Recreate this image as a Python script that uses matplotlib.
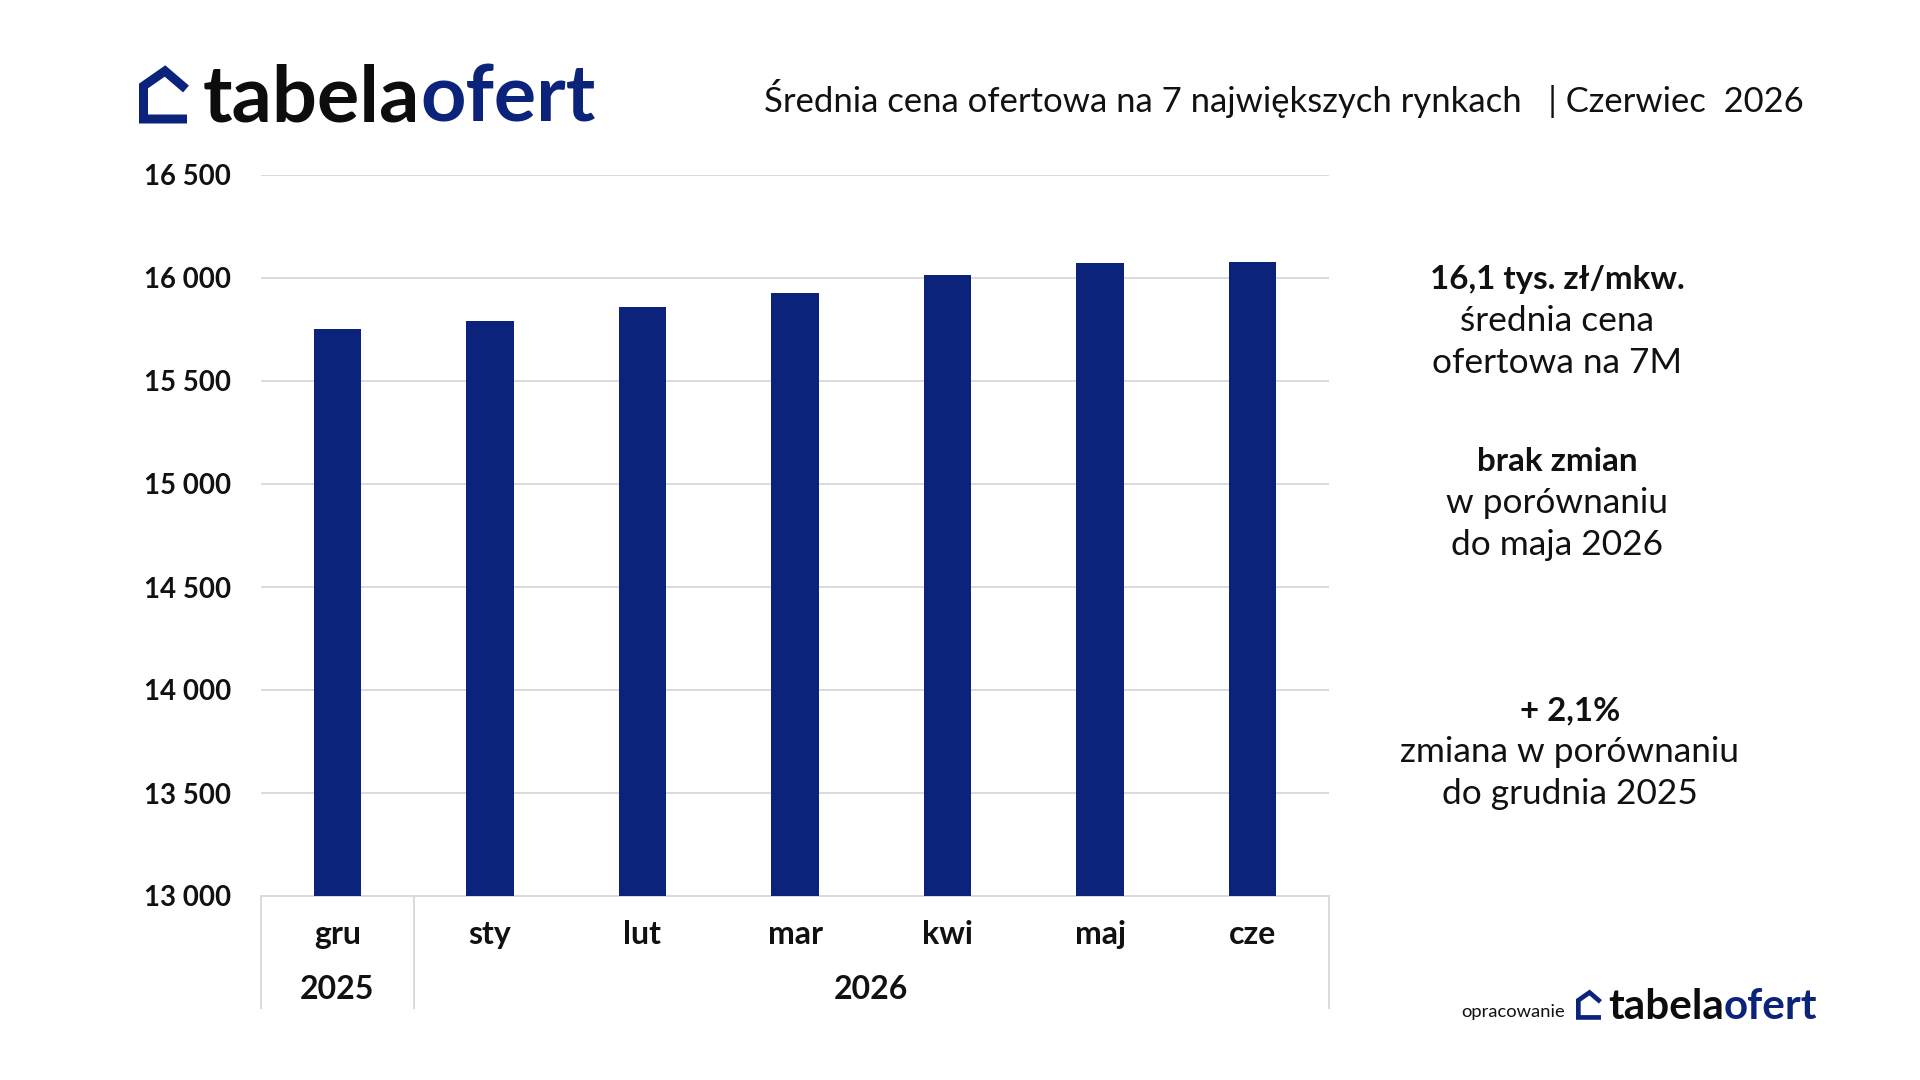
import matplotlib
matplotlib.use('Agg')
import matplotlib.pyplot as plt
from matplotlib.lines import Line2D

# ---------------- data ----------------
months = ['gru', 'sty', 'lut', 'mar', 'kwi', 'maj', 'cze']
years = ['2025', '2026']
prices = [15750, 15790, 15860, 15925, 16013, 16071, 16078]
yticks = [13000, 13500, 14000, 14500, 15000, 15500, 16000, 16500]
ytick_labels = ['13 000', '13 500', '14 000', '14 500', '15 000', '15 500', '16 000', '16 500']
title = "Średnia cena ofertowa na 7 największych rynkach   | Czerwiec  2026"
side_bold = ["16,1 tys. zł/mkw.", "brak zmian", "+ 2,1%"]
side_norm = [["średnia cena", "ofertowa na 7M"],
             ["w porównaniu", "do maja 2026"],
             ["zmiana w porównaniu", "do grudnia 2025"]]

# ---------------- style ----------------
FAM = ['Lato', 'DejaVu Sans']
NAVY = '#0b237a'
GRID = '#dadada'
HEAVY = 'bold'
W, H = 1920, 1080

fig = plt.figure(figsize=(19.2, 10.8), dpi=100)
fig.patch.set_facecolor('white')
renderer = fig.canvas.get_renderer()


def fx(x):
    return x / W


def fy(y):
    return 1 - y / H


def width_px(s, size, weight):
    t = fig.text(0, 0, s, fontsize=size, fontweight=weight, family=FAM)
    w = t.get_window_extent(renderer).width
    t.remove()
    return w


def fit(s, target, weight):
    return 20 * target / width_px(s, 20, weight)


def text_px(x, y, s, size, weight='normal', color='black', ha='left', va='baseline'):
    return fig.text(fx(x), fy(y), s, fontsize=size, fontweight=weight, color=color,
                    ha=ha, va=va, family=FAM)


def house(x0, yb, sc):
    pts = [(48, -4), (4.5, -4), (4.5, -37), (26, -52), (47, -34)]
    xs = [fx(x0 + p[0] * sc) for p in pts]
    ys = [fy(yb + p[1] * sc) for p in pts]
    fig.add_artist(Line2D(xs, ys, color=NAVY, lw=9 * sc * 0.72,
                          solid_joinstyle='miter', solid_capstyle='butt',
                          transform=fig.transFigure))


def logo(x0, base, width_target, icon_x, icon_sc):
    fs = fit("tabelaofert", width_target, HEAVY)
    t1 = text_px(x0, base, "tabela", fs, HEAVY, '#0d0d0d')
    bb = t1.get_window_extent(renderer)
    text_px(bb.x1, base, "ofert", fs, HEAVY, NAVY)
    house(icon_x, base + 1 * icon_sc, icon_sc)


# ---------------- axes ----------------
ax_left, ax_right, ax_top, ax_bot = 261, 1329, 175, 896
axw = ax_right - ax_left
axh = ax_bot - ax_top
ax = fig.add_axes([fx(ax_left), fy(ax_bot), axw / W, axh / H])
x = list(range(len(months)))
ax.bar(x, prices, width=0.31, color=NAVY, zorder=3)
ax.set_xlim(-0.5, len(months) - 0.5)
ax.set_ylim(yticks[0], yticks[-1])
ax.set_yticks(yticks)
ax.set_yticklabels([])
ax.yaxis.grid(True, color=GRID, lw=1.4)
ax.set_axisbelow(True)
ax.set_xticks([])
for s in ['top', 'right', 'left']:
    ax.spines[s].set_visible(False)
ax.spines['bottom'].set_color(GRID)
ax.spines['bottom'].set_linewidth(1.4)
ax.tick_params(axis='y', length=0)

tick_fs = fit("16 500", 82, HEAVY) * 1.06
yt = ax.get_yaxis_transform()
for v, lab in zip(yticks, ytick_labels):
    ax.text(-(ax_left - 231) / axw, v, lab, transform=yt, ha='right', va='center_baseline',
            fontsize=tick_fs, fontweight=HEAVY, family=FAM, color='#111111')

xt = ax.get_xaxis_transform()
cat_fs = (fit("mar", 56, HEAVY) + fit("2026", 64, HEAVY)) / 2 * 1.06
month_base = -(944 - ax_bot) / axh
year_base = -(999 - ax_bot) / axh
for i, m in enumerate(months):
    ax.text(i, month_base, m, transform=xt, ha='center', va='baseline',
            fontsize=cat_fs, fontweight=HEAVY, family=FAM, color='#111111')
ax.text(0, year_base, years[0], transform=xt, ha='center', va='baseline',
        fontsize=cat_fs, fontweight=HEAVY, family=FAM, color='#111111')
ax.text((0.5 + len(months) - 0.5) / 2, year_base, years[1], transform=xt, ha='center',
        va='baseline', fontsize=cat_fs, fontweight=HEAVY, family=FAM, color='#111111')
tab_bot = -(1008 - ax_bot) / axh
for xv in [-0.5, 0.5, len(months) - 0.5]:
    ax.plot([xv, xv], [0, tab_bot], transform=xt, color=GRID, lw=1.4, clip_on=False)

# ---------------- title & logos ----------------
title_fs = fit(title, 1041, 'normal')
text_px(764, 112, title, title_fs, 'normal', '#111111')

logo(203, 122, 393, 139, 1.0)
logo(1608, 1019, 209, 1576, 0.52)
op_fs = fit("opracowanie", 104, 'normal')
text_px(1461, 1017, "opracowanie", op_fs, 'normal', '#111111')

# ---------------- side text ----------------
bold_fs = fit(side_bold[0], 246, HEAVY) * 1.04
norm_fs = fit(side_norm[2][0], 340, 'normal')
block_y = [277, 459, 708]
block_x = [1557, 1557, 1570]
line_gap = 41.5
for b in range(3):
    cy = block_y[b]
    text_px(block_x[b], cy + 0.36 * bold_fs / 0.72, side_bold[b], bold_fs, HEAVY, '#111111', ha='center')
    for j, ln in enumerate(side_norm[b]):
        yy = cy + (j + 1) * line_gap
        text_px(block_x[b], yy + 0.36 * norm_fs / 0.72, ln, norm_fs, 'normal', '#111111', ha='center')

fig.savefig('out.png', dpi=100, facecolor='white')
